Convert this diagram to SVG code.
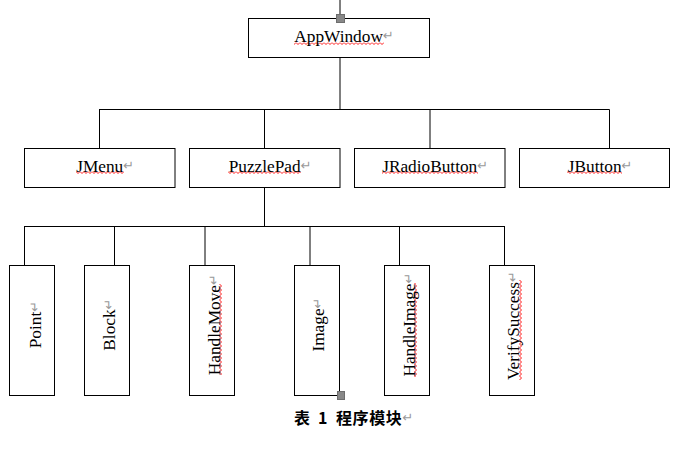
<svg xmlns="http://www.w3.org/2000/svg" width="673" height="455" viewBox="0 0 673 455">
<style>
.box{fill:#fff;stroke:#000;stroke-width:1}
.ln{fill:none;stroke:#000;stroke-width:1}
.t{font-family:"Liberation Serif","Times New Roman",serif;font-size:17.3px;fill:#000}
.m{font-family:"DejaVu Sans",sans-serif;font-size:13px;fill:#9a9a9a}
.h{fill:#888;stroke:#6e6e6e;stroke-width:1}
.cap{font-family:"Noto Sans CJK SC","Liberation Sans",sans-serif;font-size:16px;font-weight:bold;fill:#000}
</style>
<defs>
<pattern id="wavyH" patternUnits="userSpaceOnUse" x="0" y="0" width="4" height="3">
<path d="M0,0.5 L2,2.5 L4,0.5" fill="none" stroke="#f00" stroke-width="0.9"/>
</pattern>
<pattern id="wavyV" patternUnits="userSpaceOnUse" x="0" y="0" width="3" height="4">
<path d="M0.5,0 L2.5,2 L0.5,4" fill="none" stroke="#f00" stroke-width="0.9"/>
</pattern>
</defs>
<g id="connectors">
<path class="ln" d="M340,0 V14"/>
<path class="ln" d="M340,57.5 V109.5"/>
<path class="ln" d="M99,109.5 H609.5"/>
<path class="ln" d="M99.5,109.5 V148.5 M264.5,109.5 V148.5 M430,109.5 V148.5 M609.5,109.5 V148.5"/>
<path class="ln" d="M264.5,187.5 V226.5"/>
<path class="ln" d="M24,226.5 H505"/>
<path class="ln" d="M24.5,226.5 V265.5 M114.5,226.5 V265.5 M205,226.5 V265.5 M310,226.5 V265.5 M399.5,226.5 V265.5 M504.5,226.5 V265.5"/>
</g>
<g id="AppWindow">
<rect class="box" x="248.5" y="18.5" width="181" height="39"/>
<rect class="h" x="336.5" y="14.5" width="8" height="8"/>
<rect x="294" y="42" width="90" height="3" fill="url(#wavyH)"/>
<text class="t" x="294.3" y="42">AppWindow<tspan class="m" dy="-2">↵</tspan></text>
</g>
<g id="JMenu">
<rect class="box" x="24.5" y="148.5" width="150.5" height="39"/>
<rect x="76" y="171" width="48" height="3" fill="url(#wavyH)"/>
<text class="t" x="76.2" y="171.5">JMenu<tspan class="m" dy="-2">↵</tspan></text>
</g>
<g id="PuzzlePad">
<rect class="box" x="189.5" y="148.5" width="150.5" height="39"/>
<rect x="228" y="171" width="73" height="3" fill="url(#wavyH)"/>
<text class="t" x="228.7" y="171.5">PuzzlePad<tspan class="m" dy="-2">↵</tspan></text>
</g>
<g id="JRadioButton">
<rect class="box" x="354.5" y="148.5" width="150.5" height="39"/>
<rect x="382" y="171" width="96" height="3" fill="url(#wavyH)"/>
<text class="t" x="382.2" y="171.5">JRadioButton<tspan class="m" dy="-2">↵</tspan></text>
</g>
<g id="JButton">
<rect class="box" x="519.5" y="148.5" width="150" height="39"/>
<rect x="567" y="171" width="55" height="3" fill="url(#wavyH)"/>
<text class="t" x="567.8" y="171.5">JButton<tspan class="m" dy="-2">↵</tspan></text>
</g>
<g id="Point">
<rect class="box" x="9.5" y="265.5" width="45" height="130"/>
<text class="t" transform="translate(41,348.3) rotate(-90)">Point<tspan class="m" dy="-2">↵</tspan></text>
</g>
<g id="Block">
<rect class="box" x="84.5" y="265.5" width="45" height="130"/>
<text class="t" transform="translate(115,350.7) rotate(-90)">Block<tspan class="m" dy="-2">↵</tspan></text>
</g>
<g id="HandleMove">
<rect class="box" x="189.5" y="265.5" width="45" height="130"/>
<rect x="219" y="284" width="3" height="91" fill="url(#wavyV)"/>
<text class="t" transform="translate(220,375.2) rotate(-90)">HandleMove<tspan class="m" dy="-2">↵</tspan></text>
</g>
<g id="Image">
<rect class="box" x="294.5" y="265.5" width="45" height="130"/>
<rect class="h" x="337.5" y="391.5" width="7" height="8"/>
<text class="t" transform="translate(323.5,351.6) rotate(-90)">Image<tspan class="m" dy="-2">↵</tspan></text>
</g>
<g id="HandleImage">
<rect class="box" x="384.5" y="265.5" width="45" height="130"/>
<rect x="414" y="283" width="3" height="94" fill="url(#wavyV)"/>
<text class="t" transform="translate(414.5,376.6) rotate(-90)">HandleImage<tspan class="m" dy="-2">↵</tspan></text>
</g>
<g id="VerifySuccess">
<rect class="box" x="489.5" y="265.5" width="45" height="130"/>
<rect x="519" y="280" width="3" height="100" fill="url(#wavyV)"/>
<text class="t" transform="translate(519,380) rotate(-90)">VerifySuccess<tspan class="m" dy="-2">↵</tspan></text>
</g>
<g id="caption">
<text class="cap" x="294" y="424">表<tspan x="318">1</tspan><tspan x="336" letter-spacing="0.6">程序模块</tspan><tspan class="m" font-weight="normal" dy="-2">↵</tspan></text>
</g>
</svg>
